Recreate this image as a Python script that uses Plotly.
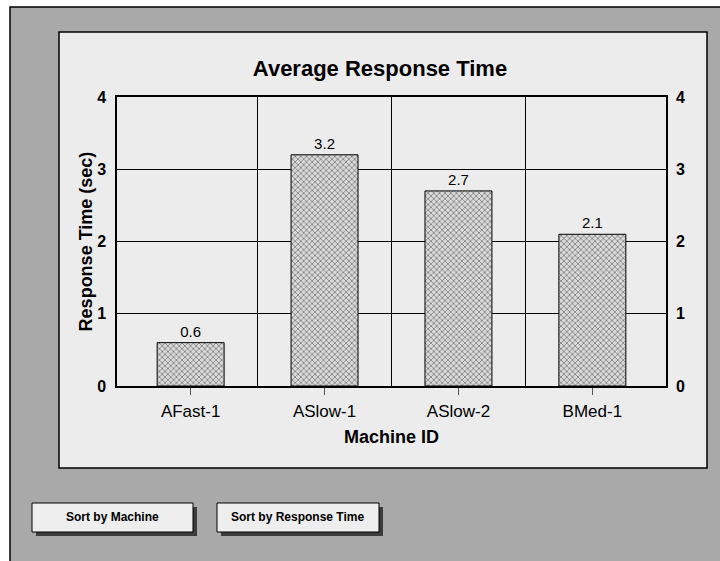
import plotly.graph_objects as go

# data
machines = ["AFast-1", "ASlow-1", "ASlow-2", "BMed-1"]
response_time = [0.6, 3.2, 2.7, 2.1]
y_ticks = [0, 1, 2, 3, 4]

FONT = "Arial, Liberation Sans, sans-serif"
W, H = 720, 561
ML, MR, MT, MB = 117, 54, 97, 175
PW, PH = W - ML - MR, H - MT - MB


def px(x):
    return (x - ML) / PW


def py(y):
    return (H - MB - y) / PH


pos = list(range(len(machines)))

# order for the "sort by response time" button
order = sorted(pos, key=lambda i: response_time[i])
sorted_names = [machines[i] for i in order]
sorted_vals = [response_time[i] for i in order]

fig = go.Figure()

fig.add_trace(go.Bar(
    x=pos, y=response_time,
    width=0.5,
    texttemplate="%{y}",
    textposition="outside",
    textfont=dict(family=FONT, size=15, color="black", weight="normal"),
    cliponaxis=False,
    marker=dict(
        color="#c8c8c8",
        line=dict(color="black", width=1),
        pattern=dict(shape="x", fgcolor="#303030", bgcolor="#dadada",
                     size=4, solidity=0.4),
    ),
    showlegend=False,
    hoverinfo="x+y",
))

# invisible trace only to get the right-hand y axis
fig.add_trace(go.Scatter(x=pos, y=response_time, yaxis="y2",
                         mode="markers", marker=dict(opacity=0),
                         showlegend=False, hoverinfo="skip"))

# background panels and button boxes
shapes = [
    dict(type="rect", xref="paper", yref="paper", layer="below",
         x0=px(10), y0=py(7), x1=px(730), y1=py(575),
         fillcolor="#a9a9a9", line=dict(color="black", width=1.5)),
    dict(type="rect", xref="paper", yref="paper", layer="below",
         x0=px(59), y0=py(32), x1=px(707), y1=py(468),
         fillcolor="#ececec", line=dict(color="black", width=1.5)),
]
buttons_px = [(32, 503, 193, 532), (217, 503, 379, 532)]
for x0, y0, x1, y1 in buttons_px:
    shapes.append(dict(type="rect", xref="paper", yref="paper", layer="below",
                       x0=px(x0 + 4), y0=py(y0 + 4), x1=px(x1 + 4), y1=py(y1 + 4),
                       fillcolor="#3c3c3c", line=dict(width=0)))
    shapes.append(dict(type="rect", xref="paper", yref="paper", layer="below",
                       x0=px(x0), y0=py(y0), x1=px(x1), y1=py(y1),
                       fillcolor="#eeeeee", line=dict(color="black", width=1)))

menu_font = dict(family=FONT, size=12, color="black")
updatemenus = []
for (x0, y0, x1, y1), label, vals, names in zip(
        buttons_px,
        ["<b>Sort by Machine</b>", "<b>Sort by Response Time</b>"],
        [response_time, sorted_vals],
        [machines, sorted_names]):
    updatemenus.append(dict(
        type="buttons", direction="right", showactive=False, active=-1,
        x=px((x0 + x1) / 2), y=py((y0 + y1) / 2),
        xanchor="center", yanchor="middle",
        bgcolor="rgba(0,0,0,0)", bordercolor="rgba(0,0,0,0)", borderwidth=0,
        pad=dict(l=0, r=0, t=0, b=0),
        font=menu_font,
        buttons=[dict(label=label, method="update",
                      args=[{"y": [vals, vals]}, {"xaxis.ticktext": names}])],
    ))

tick_font = dict(family=FONT, size=16, color="black", weight="bold")

fig.update_layout(
    width=W, height=H,
    margin=dict(l=ML, r=MR, t=MT, b=MB),
    paper_bgcolor="white",
    plot_bgcolor="rgba(0,0,0,0)",
    font=dict(family=FONT, color="black"),
    title=dict(text="<b>Average Response Time</b>",
               font=dict(family=FONT, size=22, color="black"),
               x=380 / W, xanchor="center", xref="container",
               y=1 - 68 / H, yanchor="middle", yref="container"),
    shapes=shapes,
    updatemenus=updatemenus,
    xaxis=dict(
        range=[-0.55, 3.55],
        tickmode="array", tickvals=pos, ticktext=machines,
        ticks="outside", ticklen=7, tickcolor="#555555", tickwidth=1,
        ticklabelstandoff=2,
        tickfont=dict(family=FONT, size=17, color="black"),
        showgrid=False, zeroline=False,
        showline=True, linecolor="black", linewidth=1.5, mirror=True,
        minor=dict(tickmode="array", tickvals=[0.5, 1.5, 2.5],
                   showgrid=True, gridcolor="black", gridwidth=1, ticks=""),
        title=dict(text="<b>Machine ID</b>", standoff=10,
                   font=dict(family=FONT, size=18, color="black")),
        fixedrange=True,
    ),
    yaxis=dict(
        range=[0, 4], tickvals=y_ticks,
        tickfont=tick_font,
        ticklabelstandoff=6,
        showgrid=True, gridcolor="black", gridwidth=1,
        zeroline=False, ticks="",
        showline=True, linecolor="black", linewidth=1.5, mirror=True,
        title=dict(text="<b>Response Time (sec)</b>", standoff=0,
                   font=dict(family=FONT, size=18, color="black")),
        fixedrange=True,
    ),
    yaxis2=dict(
        range=[0, 4], tickvals=y_ticks, overlaying="y", side="right",
        tickfont=tick_font,
        ticklabelstandoff=9,
        showgrid=False, zeroline=False, ticks="",
        fixedrange=True,
    ),
)

# page body margin would shift the figure off the window origin
fig.write_html("out.html", config={"displayModeBar": False},
               post_script="document.body.style.margin='0';")
